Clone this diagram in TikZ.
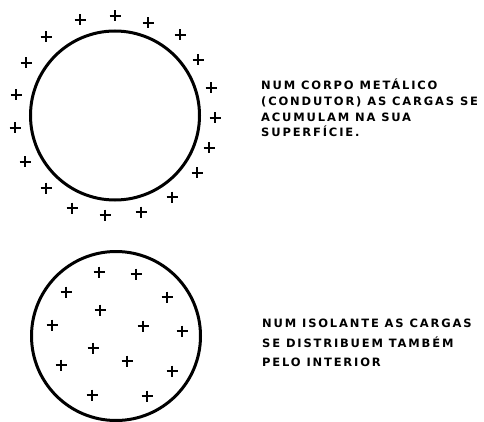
\documentclass[tikz,border=0pt]{standalone}
\usepackage{fontspec}
\setmainfont{DejaVu Sans}[LetterSpace=16]
\begin{document}
\begin{tikzpicture}[x=1pt,y=-1pt,
  ring/.style={draw, circle, line width=3pt, minimum size=169pt, inner sep=0pt},
  charge/.style={line width=1.1pt},
  label/.style={anchor=base west, inner sep=0pt, font=\fontsize{11.5}{13}\selectfont\bfseries}]
\useasboundingbox (0,0) rectangle (484,422);
\node[ring] (cond) at (115,115.5) {};
\node[ring] (isol) at (116,336) {};
\foreach \x/\y in {80/20,115/16,148/23,180/35,198/60,211/88,215/118,209/148,197/173,172/197,141/212,105/215,72/208,46/188,25/162,15/128,16/95,26/63,46/37}
  \draw[charge] (\x-5.5,\y) -- (\x+5.5,\y) (\x,\y-5.5) -- (\x,\y+5.5);
\foreach \x/\y in {99/272,136/274,66/292,167/297,100/310,52/325,143/326,182/331,93/348,61/365,127/361,172/371,92/395,147/396}
  \draw[charge] (\x-5.5,\y) -- (\x+5.5,\y) (\x,\y-5.5) -- (\x,\y+5.5);
\node[label] (t1) at (261,89.5) {NUM CORPO METÁLICO};
\node[label] (t2) at (261,105.5) {(CONDUTOR) AS CARGAS SE};
\node[label] (t3) at (261,121.5) {ACUMULAM NA SUA};
\node[label] (t4) at (261,137) {SUPERFÍCIE.};
\node[label] (b1) at (262,327.5) {NUM ISOLANTE AS CARGAS};
\node[label] (b2) at (262,347) {SE DISTRIBUEM TAMBÉM};
\node[label] (b3) at (262,366.5) {PELO INTERIOR};
\end{tikzpicture}
\end{document}
